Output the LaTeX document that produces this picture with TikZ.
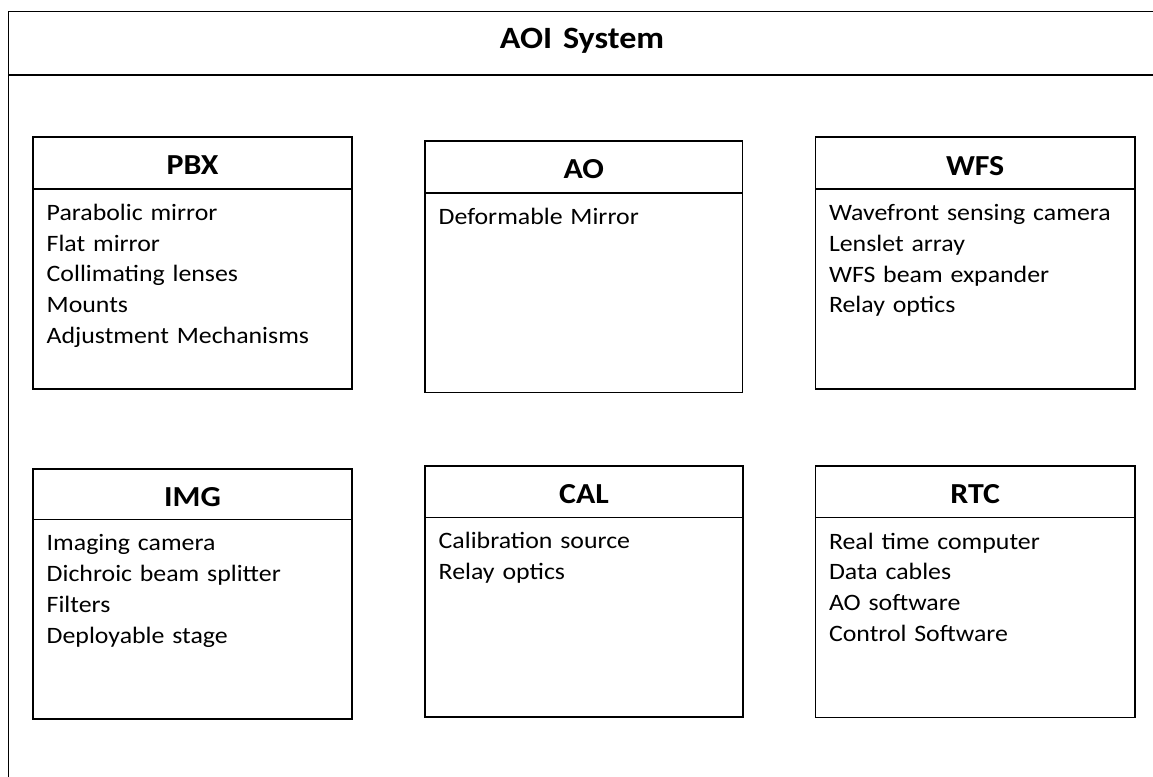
\documentclass[tikz,border=0pt]{standalone}
\usepackage{fontspec}
\setmainfont{Carlito}[FakeStretch=1.1,WordSpace=1.4]
\begin{document}
\begin{tikzpicture}[x=1pt,y=-1pt,
  frame/.style={draw=black,line width=1.6pt},
  hdr/.style={anchor=base,font=\fontsize{29}{33}\selectfont\bfseries,inner sep=0pt},
  body/.style={anchor=base west,inner sep=0pt,text width=320pt,align=left,font=\fontsize{23.5}{30.8}\selectfont},
  ttl/.style={anchor=base,font=\fontsize{31}{36}\selectfont\bfseries,inner sep=0pt}]
\useasboundingbox (0,0) rectangle (1153,776);
\clip (0,0) rectangle (1153,776);
\fill[white] (0,0) rectangle (1153,776);
% outer frame
\draw[frame] (8.5,11.5) rectangle (1170,800);
\draw[line width=2pt] (8.5,74.7) -- (1170,74.7);
\node[ttl] (title) at (582,48.3) {AOI System};
% boxes: #1 name, left, top, right, bottom, header line
\newcommand{\umlbox}[7]{%
  \draw[frame] (#2,#3) rectangle (#4,#5);
  \draw[frame] (#2,#6) -- (#4,#6);
  \coordinate (#1-hd) at ({(#2+#4)/2},{(#3+#6)/2+12});
  \coordinate (#1-tx) at ({#2+13.5},{#6+31.5});
  \node[hdr] (#1-title) at (#1-hd) {#7};
}
\umlbox{pbx}{33}{137}{352}{388.7}{188.7}{PBX}
\umlbox{ao}{425}{141}{742.5}{392.3}{192.7}{AO}
\umlbox{wfs}{815.3}{137}{1135}{388.7}{189}{WFS}
\umlbox{img}{33}{468.7}{352}{719}{519.3}{IMG}
\umlbox{cal}{425}{465.7}{743}{717}{517.3}{CAL}
\umlbox{rtc}{815.3}{466}{1135}{717.3}{517.5}{RTC}
\node[body] (pbx-list) at (pbx-tx) {Parabolic mirror\\Flat mirror\\Collimating lenses\\Mounts\\Adjustment Mechanisms};
\node[body] (ao-list) at (ao-tx) {Deformable Mirror};
\node[body] (wfs-list) at (wfs-tx) {Wavefront sensing camera\\Lenslet array\\WFS beam expander\\Relay optics};
\node[body] (img-list) at (img-tx) {Imaging camera\\Dichroic beam splitter\\Filters\\Deployable stage};
\node[body] (cal-list) at (cal-tx) {Calibration source\\Relay optics};
\node[body] (rtc-list) at (rtc-tx) {Real time computer\\Data cables\\AO software\\Control Software};
\end{tikzpicture}
\end{document}
